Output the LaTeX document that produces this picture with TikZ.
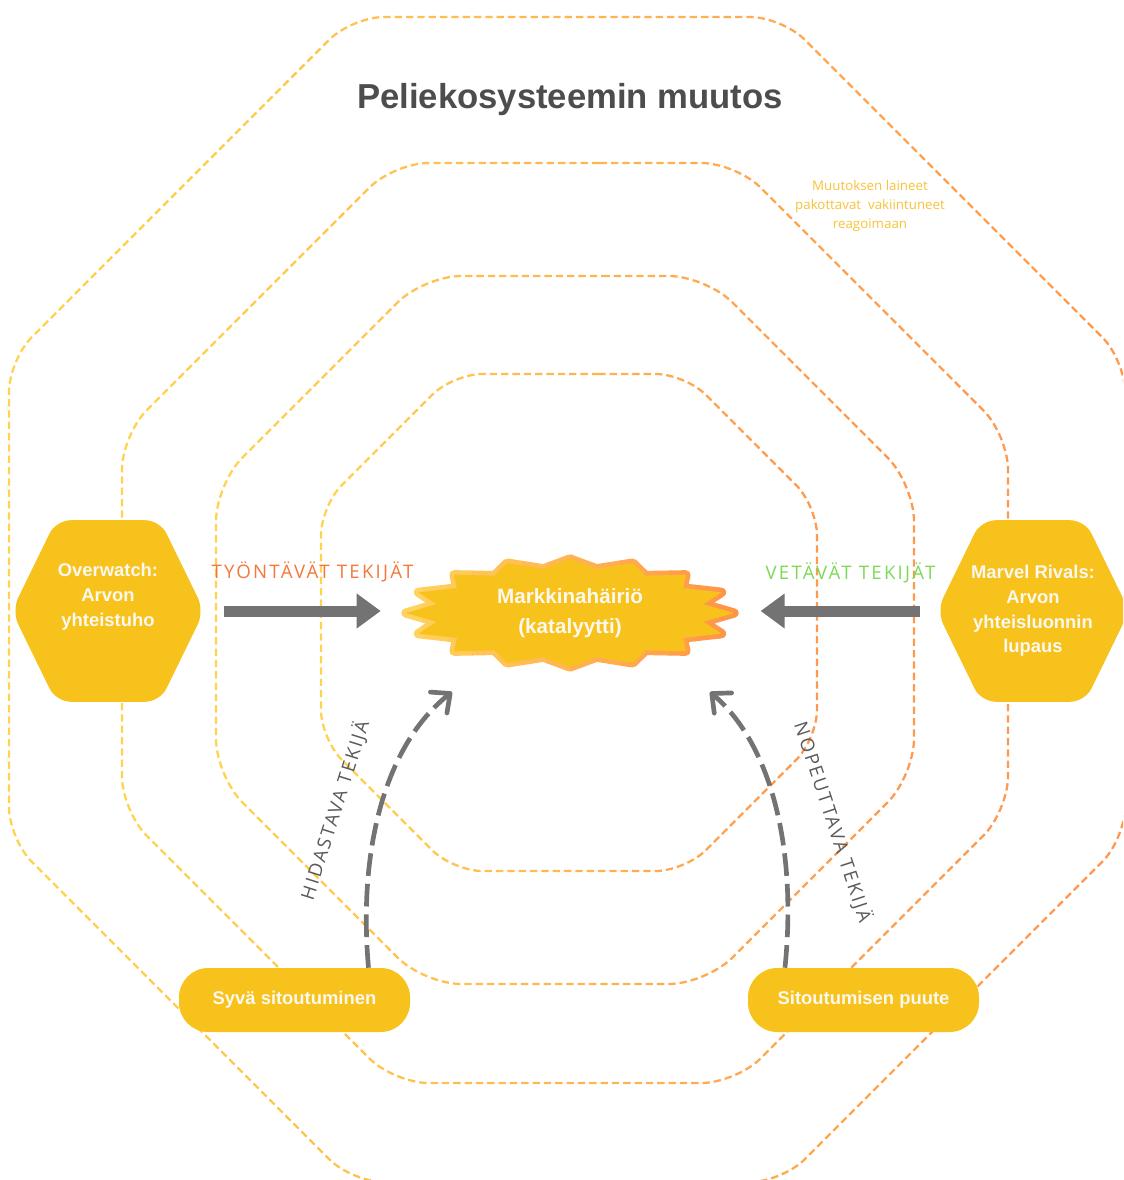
\documentclass[tikz,border=0pt]{standalone}
\usepackage{fontspec}
\setmainfont{Liberation Sans}
\newfontfamily\osans{Open Sans}
\newfontfamily\osanssp{Open Sans}[LetterSpace=12]
\usetikzlibrary{arrows.meta}
\definecolor{ringY}{HTML}{FFD54F}
\definecolor{ringO}{HTML}{FF9650}
\definecolor{gold}{HTML}{F8C21D}
\definecolor{txtw}{HTML}{FBF8F0}
\definecolor{arrowgray}{HTML}{737373}
\definecolor{titlegray}{HTML}{4D4D4D}
\definecolor{labgray}{HTML}{5A5A5A}
\definecolor{pushc}{HTML}{F5773A}
\definecolor{pullc}{HTML}{7ED957}
\definecolor{notec}{HTML}{F9C33A}
\definecolor{burstY}{HTML}{FFD55E}
\definecolor{burstO}{HTML}{FF9246}
\newcommand\ringoct[6]{%
 \foreach \k in {0,...,15}{%
  \pgfmathsetmacro\sw{(2*#3+8)/16}%
  \pgfmathsetmacro\xa{#1-#3-4+\sw*\k}%
  \pgfmathsetmacro\xb{\xa+\sw+0.8}%
  \pgfmathtruncatemacro\pc{100*(\k+0.5)/16}%
  \begin{scope}
   \clip (\xa,-20) rectangle (\xb,1220);
   \draw[ring, rounded corners=#6, draw=ringO!\pc!ringY] (#1,#2-#4) -- (#1+#3-#5,#2-#4) -- (#1+#3,#2-#4+#5) -- (#1+#3,#2+#4-#5) -- (#1+#3-#5,#2+#4) -- (#1-#3+#5,#2+#4) -- (#1-#3,#2+#4-#5) -- (#1-#3,#2-#4+#5) -- (#1-#3+#5,#2-#4) -- cycle;
  \end{scope}
 }%
}
\begin{document}
\begin{tikzpicture}[x=0.75pt,y=-0.75pt,
  ring/.style={line width=1.7pt, dash pattern=on 5.5pt off 3pt},
  hexbox/.style={minimum width=144pt, minimum height=135.75pt, inner sep=0pt},
  hexfill/.style={fill=gold, rounded corners=11pt},
  nodetext/.style={text=txtw, font=\fontsize{13.8}{18.6}\selectfont\bfseries, align=center, inner sep=0pt},
  bursttext/.style={text=txtw, font=\fontsize{15.5}{22.5}\selectfont\bfseries, align=center, inner sep=0pt, minimum width=253.5pt, minimum height=87.75pt},
  pill/.style={fill=gold, rounded corners=22pt, minimum width=173.25pt, minimum height=48pt, inner sep=0pt, text=txtw, font=\fontsize{13.8}{16}\selectfont\bfseries},
  bigarrow/.style={draw=arrowgray, line width=8.25pt, -{Triangle[length=18pt,width=25pt]}},
  curvearrow/.style={draw=arrowgray, line width=3.5pt, dash pattern=on 17pt off 6pt, -{Straight Barb[length=11pt,width=20pt,round]}},
  factor/.style={font=\osanssp\fontsize{14}{16}\selectfont, inner sep=0pt}
]
\useasboundingbox (0,0) rectangle (1123,1180);
\fill[white] (0,0) rectangle (1123,1180);
\clip (0,0) rectangle (1123,1180);

% rings
\ringoct{567}{599.5}{558}{582.5}{343}{24pt}
\ringoct{565}{623}{443}{460}{272}{26pt}
\ringoct{565}{630}{349}{354}{208}{28pt}
\ringoct{569}{622.5}{248}{248.5}{132}{22pt}

% burst
\foreach \k in {0,...,13}{%
 \pgfmathsetmacro\xa{398+346/14*\k}%
 \pgfmathsetmacro\xb{\xa+346/14+0.8}%
 \pgfmathtruncatemacro\pc{100*(\k+0.5)/14}%
 \begin{scope}
  \clip (\xa,540) rectangle (\xb,690);
  \draw[line width=7pt, line join=round, draw=burstO!\pc!burstY] (734,613) \foreach \i in {0,...,15}{ -- ({570+136*cos(\i*22.5+11.25)},{613+45*sin(\i*22.5+11.25)}) -- ({570+164*cos((\i+1)*22.5)},{613+54*sin((\i+1)*22.5)}) } -- cycle;
 \end{scope}
}
\fill[gold] (734,613) \foreach \i in {0,...,15}{ -- ({570+136*cos(\i*22.5+11.25)},{613+45*sin(\i*22.5+11.25)}) -- ({570+164*cos((\i+1)*22.5)},{613+54*sin((\i+1)*22.5)}) } -- cycle;
\node[bursttext] (burst) at (570,613) {Markkinahäiriö\\(katalyytti)};

% hexagons
\node[hexbox] (lhex) at (108,611) {};
\fill[hexfill] (lhex.north) -- ([xshift=39pt]lhex.north) -- (lhex.east) -- ([xshift=39pt]lhex.south) -- ([xshift=-39pt]lhex.south) -- (lhex.west) -- ([xshift=-39pt]lhex.north) -- cycle;
\node[nodetext] (lhex-t) at ([yshift=10.5pt]lhex.center) {Overwatch:\\Arvon\\yhteistuho};

\node[hexbox] (rhex) at (1033,611) {};
\fill[hexfill] (rhex.north) -- ([xshift=39pt]rhex.north) -- (rhex.east) -- ([xshift=39pt]rhex.south) -- ([xshift=-39pt]rhex.south) -- (rhex.west) -- ([xshift=-39pt]rhex.north) -- cycle;
\node[nodetext] (rhex-t) at (rhex.center) {Marvel Rivals:\\Arvon\\yhteisluonnin\\lupaus};

% pills
\node[pill] (lpill) at (294.5,1000) {Syvä sitoutuminen};
\node[pill] (rpill) at (863.5,1000) {Sitoutumisen puute};

% arrows
\draw[bigarrow, shorten <=15pt, shorten >=15pt] (lhex.east) -- (lhex.east -| burst.west);
\draw[bigarrow, shorten <=12.75pt, shorten >=16pt] (rhex.west) -- (rhex.west -| burst.east);

\coordinate (ltip) at (452,692);
\coordinate (rtip) at (710,692);
\draw[curvearrow] ([xshift=55.5pt]lpill.north) .. controls (358,850) and (385,745) .. (ltip);
\draw[curvearrow] ([xshift=-58.9pt]rpill.north) .. controls (797,850) and (772,745) .. (rtip);

% labels
\node[factor, text=pushc, anchor=base] (push) at (312.5,578) {TYÖNTÄVÄT TEKIJÄT};
\node[factor, text=pullc, anchor=base] (pull) at (850.5,579) {VETÄVÄT TEKIJÄT};
\node[factor, text=labgray, rotate=72.5] (slow) at (335,810) {HIDASTAVA TEKIJÄ};
\node[factor, text=labgray, rotate=-71.7] (fast) at (833,822) {NOPEUTTAVA TEKIJÄ};

% title and note
\node[font=\fontsize{26}{30}\selectfont\bfseries, text=titlegray, anchor=base, inner sep=0pt] (title) at (570,109) {Peliekosysteemin muutos};
\node[font=\osans\fontsize{10}{14.25}\selectfont, text=notec, align=center, inner sep=0pt] (note) at (870,206) {Muutoksen laineet\\pakottavat\ \ vakiintuneet\\reagoimaan};
\end{tikzpicture}
\end{document}
